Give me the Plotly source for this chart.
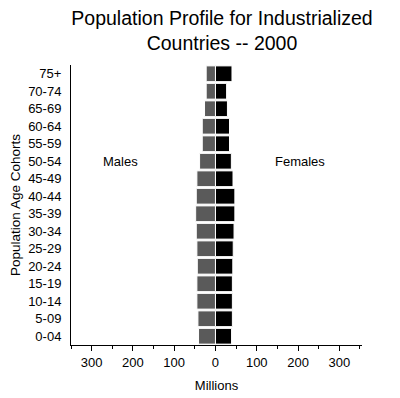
import plotly.graph_objects as go

ages = ["0-04", "5-09", "10-14", "15-19", "20-24", "25-29", "30-34", "35-39",
        "40-44", "45-49", "50-54", "55-59", "60-64", "65-69", "70-74", "75+"]
males = [41, 42.5, 45, 45, 44, 45, 46.5, 48, 46.5, 45, 38.5, 32, 32, 26.5, 22.5, 22.5]
females = [39, 41, 41, 41, 42, 43, 45, 47, 47, 42.5, 38.5, 34, 34, 29, 27, 40]
tick_vals = [-300, -200, -100, 0, 100, 200, 300]
tick_text = ["300", "200", "100", "0", "100", "200", "300"]

fig = go.Figure()
fig.add_trace(go.Bar(y=ages, x=[-m for m in males], orientation="h", name="Males",
                     marker=dict(color="#5a5a5a", line=dict(color="white", width=1))))
fig.add_trace(go.Bar(y=ages, x=females, orientation="h", name="Females",
                     marker=dict(color="#000000", line=dict(color="white", width=1))))

font = "Liberation Sans, Arial, sans-serif"
fig.update_layout(
    width=400, height=398,
    margin=dict(l=71, r=38, t=65, b=53),
    paper_bgcolor="white", plot_bgcolor="white",
    barmode="overlay", bargap=0.1, showlegend=False,
    font=dict(family=font, size=12.5, color="black"),
    title=dict(text="Population Profile for Industrialized<br>Countries -- 2000",
               x=0.555, xanchor="center", y=0.937, yanchor="middle",
               font=dict(size=19.5, family=font, color="black")),
    xaxis=dict(range=[-350, 355], tickvals=tick_vals, ticktext=tick_text,
               automargin=False,
               showgrid=False, zeroline=False, showline=True, linecolor="black",
               linewidth=1, ticks="outside", ticklen=5, tickcolor="black",
               tickfont=dict(size=13),
               minor=dict(dtick=50, ticks="outside", ticklen=3, tickcolor="black"),
               title=dict(text="Millions", font=dict(size=13), standoff=12)),
    yaxis=dict(automargin=False, showgrid=False, zeroline=False, showline=True,
               linecolor="black",
               ticks="", tickfont=dict(size=13), ticklabelstandoff=6,
               title=dict(text="Population Age Cohorts", font=dict(size=13.5), standoff=4)),
    annotations=[
        dict(text="Males", x=-229, y="50-54", xref="x", yref="y", showarrow=False,
             font=dict(size=13)),
        dict(text="Females", x=205, y="50-54", xref="x", yref="y", showarrow=False,
             font=dict(size=13)),
    ],
)
fig.write_html("out.html", config={"displayModeBar": False},
               post_script="document.body.style.margin='0';")
